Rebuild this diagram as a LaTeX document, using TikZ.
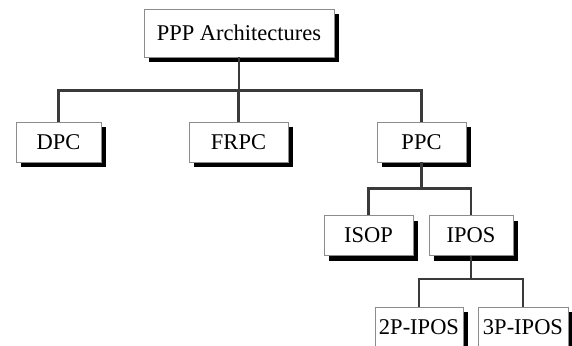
\documentclass[tikz,border=0pt]{standalone}
\usepackage{fontspec}
\setmainfont{Liberation Serif}
\usetikzlibrary{shadows,calc,positioning}
\definecolor{rahmen}{HTML}{8C8C8C}
\definecolor{linie}{HTML}{3A3A3A}
\tikzset{
  box/.style={draw=rahmen,fill=white,line width=0.9pt,inner sep=0pt,
    minimum height=40pt,font=\fontsize{22.5}{26}\selectfont,
    drop shadow={shadow xshift=5pt,shadow yshift=-5pt,fill=black,opacity=1}},
  conn/.style={draw=linie,line width=2.2pt}
}

\begin{document}
\begin{tikzpicture}[x=1pt,y=-1pt]
\useasboundingbox (0,0) rectangle (572,345);
% boxes
\node[box,minimum width=190pt,minimum height=48pt] (root) at (239,33) {PPP Architectures};
\node[box,minimum width=85pt] (dpc) at (58.5,142) {DPC};
\node[box,minimum width=99pt] (frpc) at (238.5,142) {FRPC};
\node[box,minimum width=89pt] (ppc) at (421.5,142) {PPC};
\node[box,minimum width=89pt] (isop) at (368.5,235.5) {ISOP};
\node[box,minimum width=84pt] (ipos) at (471,235.5) {IPOS};
\node[box,minimum width=88pt] (ptwo) at (419,327) {2P-IPOS};
\node[box,minimum width=90pt] (pthree) at (523,327) {3P-IPOS};
% connectors
\foreach \kind in {dpc,frpc,ppc}
  \draw[conn] (root.south) -- ++(0,33) -| (\kind.north);
\foreach \kind in {isop,ipos}
  \draw[conn] (ppc.south) -- ++(0,26) -| (\kind.north);
\foreach \kind in {ptwo,pthree}
  \draw[conn] (ipos.south) -- ++(0,23) -| (\kind.north);
\end{tikzpicture}
\end{document}
